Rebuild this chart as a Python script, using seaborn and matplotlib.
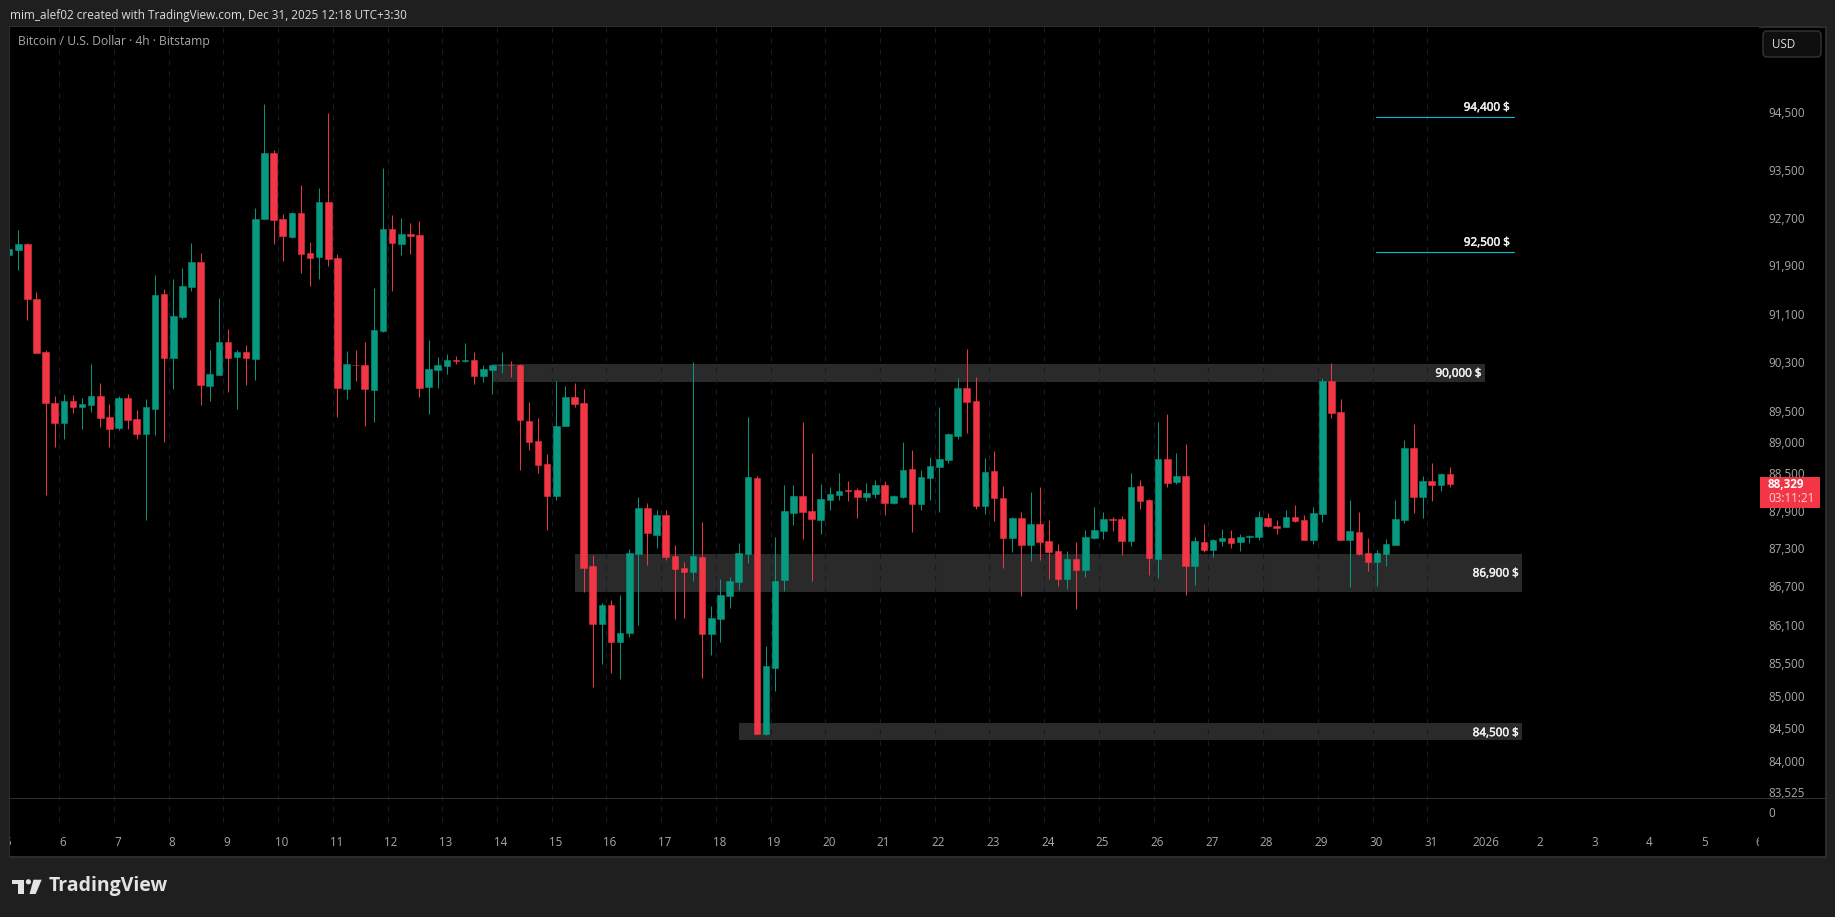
import pandas as pd
import matplotlib
matplotlib.use("Agg")
import matplotlib.pyplot as plt
import matplotlib.patheffects as pe
from matplotlib.patches import FancyBboxPatch, Polygon, Rectangle, Circle
from matplotlib.transforms import IdentityTransform
import seaborn as sns

W, H = 1835, 917

opens = [
    92074, 92158, 92258, 91343, 90470, 89638, 89314, 89671, 89574, 89606,
    89752, 89412, 89234, 89719, 89379, 89137, 89541, 91426, 90372, 91045,
    91542, 91958, 89915, 90094, 90634, 90388, 90470, 90355, 92678, 93795,
    92678, 92375, 92780, 92107, 92040, 92965, 92024, 89866, 90257, 90257,
    89849, 90815, 92510, 92258, 92426, 92409, 89898, 90175, 90241, 90339,
    90322, 90339, 90077, 90175, 90247, 90257, 90256, 89343, 89019, 88648,
    88135, 89262, 89733, 89635, 87022, 86113, 86409, 85832, 85972, 87212,
    87943, 87514, 87831, 87181, 86990, 86927, 87165, 85957, 86190, 86551,
    86770, 87212, 88423, 84414, 85429, 86802, 87863, 88135, 87895, 87752,
    88071, 88151, 88231, 88231, 88119, 88167, 88311, 88023, 88119, 88568,
    88007, 88423, 88600, 88713, 89100, 89879, 89667, 87975, 88535, 88103,
    87466, 87783, 87355, 87688, 87418, 87260, 86817, 87133, 86958, 87466,
    87577, 87768, 87768, 87418, 88295, 88071, 87133, 88729, 88359, 88455,
    87022, 87402, 87276, 87418, 87466, 87402, 87482, 87482, 87783, 87656,
    87640, 87800, 87752, 87434, 87847, 89994, 89489, 87434, 87561, 87228,
    87086, 87212, 87355, 87752, 88906, 88119, 88375, 88311, 88487,
]
highs = [
    92180, 92493, 92268, 91459, 90503, 89752, 89784, 89768, 89719, 90274,
    89964, 89622, 89752, 89784, 89525, 89703, 91739, 91509, 91677, 91858,
    92275, 92107, 90503, 91360, 90848, 90503, 90585, 92864, 94633, 93846,
    92763, 92790, 93252, 92292, 93201, 94478, 92091, 90487, 90503, 90634,
    91526, 93540, 92746, 92695, 92611, 92644, 90667, 90388, 90438, 90405,
    90618, 90470, 90257, 90274, 90470, 90322, 90272, 89651, 89391, 88810,
    89994, 89912, 89961, 89863, 87197, 86440, 86487, 86566, 87291, 88119,
    88023, 87911, 87911, 87355, 87086, 90305, 87720, 86393, 86817, 86849,
    87386, 89408, 88455, 85770, 87482, 88311, 88311, 89327, 88825, 88327,
    88279, 88503, 88375, 88263, 88343, 88391, 88375, 88151, 89003, 88874,
    88552, 88761, 89570, 89148, 90043, 90517, 90059, 88745, 88858, 88295,
    87800, 87879, 88199, 88279, 87752, 87370, 87260, 87402, 87593, 87959,
    87879, 87800, 87815, 88503, 88391, 88087, 89327, 89456, 88825, 88971,
    87482, 87688, 87450, 87609, 87593, 87529, 87514, 87895, 87863, 87752,
    87911, 87991, 87831, 87959, 90043, 90289, 89700, 88071, 87879, 87466,
    87276, 87450, 88071, 89035, 89294, 88455, 88665, 88503, 88600,
]
lows = [
    92060, 91825, 90996, 90454, 88158, 88927, 89056, 89477, 89217, 89493,
    89250, 88927, 89201, 89217, 89056, 87745, 89121, 89008, 89866, 91012,
    91476, 89606, 89671, 90094, 89817, 89541, 89931, 90012, 92678, 92258,
    91974, 92365, 91775, 91559, 91677, 91891, 89412, 89703, 89995, 89266,
    89331, 90798, 91476, 92074, 92091, 89736, 89460, 89882, 90110, 90274,
    90306, 89947, 89979, 89784, 90126, 90061, 88552, 88874, 88503, 87593,
    88071, 89262, 89570, 86613, 85135, 85491, 85351, 85259, 85910, 86097,
    87038, 87307, 87117, 86190, 86206, 86786, 85274, 85630, 85832, 86362,
    86645, 87070, 84414, 84399, 85073, 86629, 87673, 87450, 86786, 87529,
    87911, 88071, 88055, 87783, 88055, 88103, 87831, 88007, 88103, 87561,
    87911, 88071, 87879, 88665, 89051, 89148, 87927, 87847, 87736, 86990,
    87244, 86551, 87102, 87117, 86817, 86708, 86660, 86346, 86849, 87450,
    87450, 87577, 87197, 87339, 87927, 86880, 86833, 88279, 88327, 86566,
    86723, 87244, 87165, 87339, 87307, 87260, 87386, 87434, 87640, 87529,
    87640, 87720, 87434, 87370, 87720, 89391, 87434, 86692, 87197, 86942,
    86708, 87022, 87355, 87704, 87863, 87783, 88055, 88215, 88279,
]
closes = [
    92174, 92258, 91343, 90454, 89638, 89314, 89671, 89574, 89622, 89752,
    89395, 89217, 89719, 89363, 89137, 89574, 91409, 90372, 91062, 91559,
    91958, 89931, 90110, 90634, 90372, 90470, 90372, 92678, 93795, 92661,
    92392, 92780, 92091, 92024, 92965, 92007, 89882, 90274, 90247, 89866,
    90831, 92510, 92275, 92426, 92392, 89882, 90192, 90257, 90339, 90322,
    90339, 90077, 90192, 90257, 90257, 90247, 89359, 89003, 88632, 88135,
    89262, 89733, 89618, 86990, 86113, 86409, 85832, 85972, 87228, 87943,
    87545, 87831, 87165, 86974, 86927, 87181, 85957, 86206, 86566, 86786,
    87228, 88439, 84414, 85460, 86786, 87895, 88135, 87879, 87768, 88087,
    88167, 88215, 88215, 88119, 88183, 88311, 88023, 88135, 88552, 88007,
    88439, 88616, 88729, 89132, 89879, 89651, 87975, 88519, 88103, 87466,
    87783, 87355, 87688, 87402, 87244, 86817, 87133, 86958, 87482, 87593,
    87768, 87752, 87418, 88279, 88055, 87149, 88729, 88343, 88455, 87022,
    87418, 87276, 87434, 87466, 87386, 87482, 87498, 87800, 87656, 87625,
    87800, 87736, 87434, 87863, 89994, 89473, 87434, 87577, 87212, 87086,
    87228, 87370, 87768, 88906, 88119, 88375, 88311, 88487, 88329,
]

price_ticks = [94500, 93500, 92700, 91900, 91100, 90300, 89500, 89000, 88500,
               87900, 87300, 86700, 86100, 85500, 85000, 84500, 84000, 83525]
date_labels = ["5", "6", "7", "8", "9", "10", "11", "12", "13", "14", "15", "16",
               "17", "18", "19", "20", "21", "22", "23", "24", "25", "26", "27",
               "28", "29", "30", "31", "2026", "2", "3", "4", "5", "6"]

band_labels = ["90,000 $", "86,900 $", "84,500 $"]
band_low = [89975, 86611, 84320]
band_high = [90270, 87210, 84577]
band_start = [53.1, 62.05, 80.03]
band_end = [161.83, 165.9, 165.9]
band_text_price = [90120, 86910, 84430]
band_text_end = [161.5, 165.57, 165.57]

line_labels = ["94,400 $", "92,500 $"]
line_price = [94404, 92119]
line_text_price = [94578, 92288]

BG = "#1f1f1f"
FRAME = "#2e2e2e"
UP = "#089981"
DOWN = "#f23645"
BAND = "#2a2a2a"
GRID = "#141d2e"
TICK = "#a8a8a8"

sns.set_theme(style="dark", rc={"lines.scale_dashes": False, "axes.grid": False})
plt.rcParams["font.family"] = ["Open Sans", "DejaVu Sans"]

df = pd.DataFrame({"i": range(len(opens)), "open": opens, "high": highs,
                   "low": lows, "close": closes})
df["bottom"] = df[["open", "close"]].min(axis=1)
df["height"] = (df["close"] - df["open"]).abs()
up = df[df["close"] >= df["open"]].reset_index(drop=True)
down = df[df["close"] < df["open"]].reset_index(drop=True)

fig = plt.figure(figsize=(W / 100, H / 100), dpi=100, facecolor=BG)


def fx(p):
    return p / W


def fy(p):
    return 1 - p / H


heavy = [pe.withStroke(linewidth=0.35, foreground="#f0f0f0")]

# black chart surface with its frame
fig.add_artist(Rectangle((fx(9.5), fy(856.5)), (1825.5 - 9.5) / W, (856.5 - 26.5) / H,
                         transform=fig.transFigure, facecolor="black",
                         edgecolor=FRAME, linewidth=1.4, zorder=-1))

ax = fig.add_axes([fx(10), fy(856), (1759 - 10) / W, (856 - 27) / H], facecolor="black")

for frame, colour in ((up, UP), (down, DOWN)):
    sns.barplot(data=frame, x="i", y="height", bottom=frame["bottom"], native_scale=True,
                color=colour, saturation=1, width=0.72, errorbar=None, ax=ax,
                edgecolor=colour, linewidth=0.36, zorder=3)
    wicks = ax.vlines(frame["i"], frame["low"], frame["high"], colors=colour,
                      linewidth=0.7, zorder=3)
    wicks.set_snap(True)

ax.set_yscale("log")
ax.set_ylim(82560, 95964)
ax.set_xlim(0.0987, 191.88)
ax.set_xlabel("")
ax.set_ylabel("")
for s in ax.spines.values():
    s.set_visible(False)

# price scale
ax.yaxis.tick_right()
ax.set_yticks(price_ticks)
ax.set_yticklabels([f"{t:,}" for t in price_ticks])
ax.minorticks_off()
ax.tick_params(axis="y", length=0, pad=6.5, labelsize=8.4, labelcolor=TICK)
ax.set_xticks([])

# daily gridlines, which stop at the last bar
bottom_frac = (856 - 827) / (856 - 27)
for k in range(26):
    ax.axvline(5.5 + 6 * k, ymin=1, ymax=bottom_frac, color=GRID, linewidth=0.75,
               linestyle=(0, (3.6, 4.3)), zorder=2)

# date labels, clipped by the pane as in the reference
xtrans = ax.get_xaxis_transform()
for k, lab in enumerate(date_labels):
    ax.text(-0.123 + 6 * k, (856 - 842.7) / (856 - 27), lab, transform=xtrans,
            ha="center", va="center", fontsize=8.4, color=TICK, clip_on=True, zorder=5)

# bands
for lab, lo, hi, x0, x1, tp, te in zip(band_labels, band_low, band_high, band_start,
                                       band_end, band_text_price, band_text_end):
    ax.fill_between([x0, x1], lo, hi, color=BAND, linewidth=0, zorder=1)
    ax.text(te, tp, lab, ha="right", va="center", fontsize=8.4, color="#f0f0f0", zorder=5,
            path_effects=heavy)

# target lines
for lab, lp, tp in zip(line_labels, line_price, line_text_price):
    ax.plot([149.9, 165.0], [lp, lp], color="#00bcd4", linewidth=0.8, zorder=3)
    ax.text(164.6, tp, lab, ha="right", va="center", fontsize=8.4, color="#f0f0f0", zorder=5,
            path_effects=heavy)

# pane separator
fig.add_artist(Rectangle((fx(10), fy(798.9)), (1825 - 10) / W, 1 / H, transform=fig.transFigure,
                         facecolor="#303030", edgecolor="none", zorder=1))

# texts outside the panes
fig.text(fx(10), fy(15), "mim_alef02 created with TradingView.com, Dec 31, 2025 12:18 UTC+3:30",
         ha="left", va="center", fontsize=8.45, color="#dcdcdc")
fig.text(fx(18), fy(41.5), "Bitcoin / U.S. Dollar \u00b7 4h \u00b7 Bitstamp",
         ha="left", va="center", fontsize=8.75, color=TICK)
fig.text(fx(1768), fy(813.3), "0", ha="left", va="center", fontsize=8.4, color=TICK)

# USD button
fig.add_artist(FancyBboxPatch((1763, H - 57), 58, 26, boxstyle="round,pad=0,rounding_size=4",
                              transform=IdentityTransform(), facecolor="#0f0f0f",
                              edgecolor="#333333", linewidth=1.0, zorder=4))
fig.text(fx(1771.5), fy(44.7), "USD", ha="left", va="center", fontsize=8.4,
         color="#dcdcdc", zorder=6)

# last-price tag
fig.add_artist(Rectangle((fx(1760), fy(507.7)), 59.7 / W, 30.7 / H, transform=fig.transFigure,
                         facecolor=DOWN, edgecolor="none", zorder=5))
fig.text(fx(1768), fy(484.7), f"{closes[-1]:,}", ha="left", va="center", fontsize=8.4,
         fontweight="bold", color="white", zorder=6)
fig.text(fx(1768), fy(498.7), "03:11:21", ha="left", va="center", fontsize=8.4,
         color="#fcd3d7", zorder=6)

# TradingView mark and word
LOGO = "#e3e3e3"
fig.add_artist(Polygon([(12.3, H - 879.7), (24.3, H - 879.7), (24.3, H - 894), (18.3, H - 894),
                        (18.3, H - 884.3), (12.3, H - 884.3)], closed=True,
                       transform=IdentityTransform(), facecolor=LOGO, edgecolor="none"))
fig.add_artist(Circle((28.4, H - 881.8), 2.6, transform=IdentityTransform(),
                      facecolor=LOGO, edgecolor="none"))
fig.add_artist(Polygon([(33.5, H - 879.7), (41.7, H - 879.7), (35.7, H - 894), (29.5, H - 894)],
                       closed=True, transform=IdentityTransform(),
                       facecolor=LOGO, edgecolor="none"))
fig.text(fx(49), fy(886.5), "TradingView", ha="left", va="center", fontsize=14.0,
         fontfamily="Open Sans", fontweight="bold", color=LOGO)

fig.savefig("out.png", dpi=100, facecolor=BG)
